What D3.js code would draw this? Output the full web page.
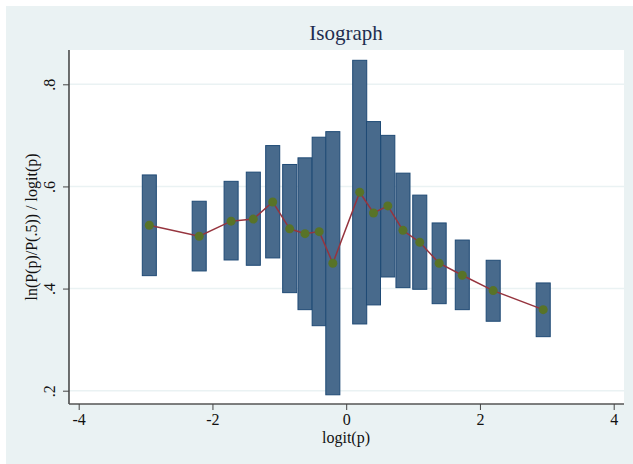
<!DOCTYPE html>
<html>
<head>
<meta charset="utf-8">
<script src="https://cdn.jsdelivr.net/npm/d3@7"></script>
<style>
  html, body { margin: 0; padding: 0; background: #fff; }
  text { font-family: "Liberation Serif", "Times New Roman", serif; }
</style>
</head>
<body>
<svg id="chart" width="633" height="464"></svg>
<script>
// logit(p) positions of each group
const xs = [-2.944, -2.198, -1.721, -1.389, -1.099, -0.845, -0.616, -0.404, -0.2,
            0.202, 0.408, 0.622, 0.849, 1.10, 1.39, 1.736, 2.198, 2.946];
// upper / lower ends of the bars
const hi = [0.6225, 0.571, 0.610, 0.628, 0.680, 0.643, 0.656, 0.6964, 0.7073,
            0.847, 0.727, 0.700, 0.626, 0.583, 0.5285, 0.495, 0.4554, 0.411];
const lo = [0.4253, 0.4345, 0.456, 0.4456, 0.460, 0.392, 0.3587, 0.3273, 0.192,
            0.3307, 0.368, 0.4227, 0.4018, 0.3986, 0.3704, 0.3587, 0.336, 0.3058];
// point estimate
const mid = [0.524, 0.5025, 0.532, 0.536, 0.5696, 0.517, 0.5075, 0.5115, 0.4496,
             0.5886, 0.548, 0.5618, 0.514, 0.4907, 0.4496, 0.426, 0.396, 0.3587];
const xTicks = [-4, -2, 0, 2, 4];
const yTicks = [0.2, 0.4, 0.6, 0.8];
const barW = 0.21; // in logit units

const svg = d3.select("#chart");

// outer background
svg.append("rect").attr("x", 6).attr("y", 6).attr("width", 627).attr("height", 458)
  .attr("fill", "#eaf2f3");

const plot = { left: 69, top: 50, right: 624, bottom: 404 };
svg.append("rect")
  .attr("x", plot.left).attr("y", plot.top)
  .attr("width", plot.right - plot.left).attr("height", plot.bottom - plot.top)
  .attr("fill", "#fff");

const x = d3.scaleLinear().domain([-4, 4]).range([78.7, 613.7]);
const y = d3.scaleLinear().domain([0.2, 0.8]).range([390.7, 84.3]);

// gridlines
svg.append("g").selectAll("line").data(yTicks).join("line")
  .attr("x1", plot.left).attr("x2", plot.right)
  .attr("y1", d => y(d)).attr("y2", d => y(d))
  .attr("stroke", "#eaf2f3").attr("stroke-width", 1.5);

// axes
const fmt = d => d3.format(".1f")(d).replace(/^0/, "");
const yAxis = svg.append("g").attr("transform", `translate(${plot.left},0)`)
  .call(d3.axisLeft(y).tickValues(yTicks).tickSize(6).tickFormat(fmt));
yAxis.select(".domain").attr("d", `M0,${plot.top}V${plot.bottom}`).attr("stroke", "#222").attr("stroke-width", 1.3);
yAxis.selectAll(".tick line").attr("stroke", "#444");
yAxis.selectAll(".tick text")
  .attr("x", null).attr("dy", null)
  .attr("transform", "translate(-14,0) rotate(-90)")
  .attr("text-anchor", "middle")
  .attr("font-size", 16).attr("fill", "#111");

const xAxis = svg.append("g").attr("transform", `translate(0,${plot.bottom})`)
  .call(d3.axisBottom(x).tickValues(xTicks).tickSize(6).tickFormat(d3.format("d")));
xAxis.select(".domain").attr("d", `M${plot.left},0H${plot.right}`).attr("stroke", "#555").attr("stroke-width", 1.3);
xAxis.selectAll(".tick line").attr("stroke", "#444");
xAxis.selectAll(".tick text").attr("y", 21).attr("dy", null)
  .attr("font-size", 16).attr("fill", "#111")
  .text(d => d < 0 ? "-" + Math.abs(d) : d);
svg.selectAll(".domain").attr("fill", "none");
svg.selectAll(".tick text").attr("font-family", "Liberation Serif, serif");

// bars
const half = barW / 2;
svg.append("g").selectAll("rect").data(xs).join("rect")
  .attr("x", d => x(d - half))
  .attr("width", d => x(d + half) - x(d - half))
  .attr("y", (d, i) => y(hi[i]))
  .attr("height", (d, i) => y(lo[i]) - y(hi[i]))
  .attr("fill", "#486a8c")
  .attr("stroke", "#1f4a75").attr("stroke-width", 1);

// connecting line
const line = d3.line().x(d => x(d[0])).y(d => y(d[1]));
svg.append("path")
  .datum(xs.map((d, i) => [d, mid[i]]))
  .attr("d", line)
  .attr("fill", "none").attr("stroke", "#96343e").attr("stroke-width", 1.5);

svg.append("g").selectAll("circle").data(xs).join("circle")
  .attr("cx", d => x(d)).attr("cy", (d, i) => y(mid[i]))
  .attr("r", 4.5).attr("fill", "#587328");

// titles
svg.append("text").attr("x", 346).attr("y", 40).attr("text-anchor", "middle")
  .attr("font-size", 21).attr("fill", "#1e2d50").text("Isograph");
svg.append("text").attr("x", 346).attr("y", 443).attr("text-anchor", "middle")
  .attr("font-size", 16).attr("fill", "#111").text("logit(p)");
svg.append("text")
  .attr("transform", `translate(37,${(plot.top + plot.bottom) / 2}) rotate(-90)`)
  .attr("text-anchor", "middle")
  .attr("font-size", 16).attr("fill", "#111")
  .text("ln(P(p)/P(.5)) / logit(p)");
</script>
</body>
</html>
